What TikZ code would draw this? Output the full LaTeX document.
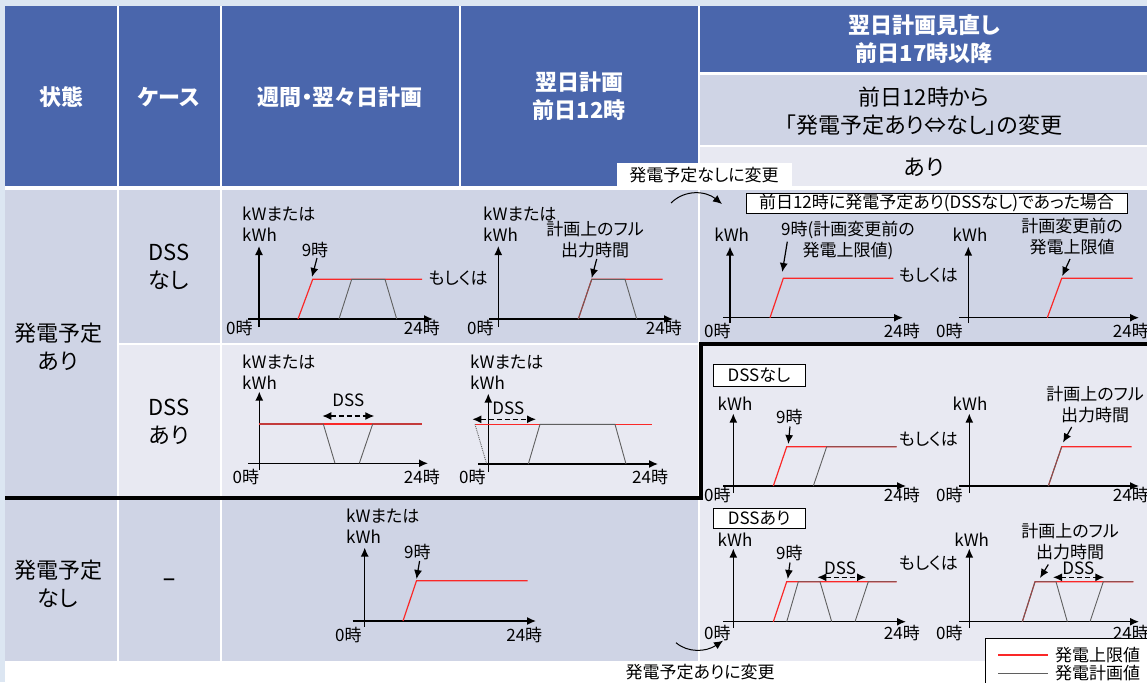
\documentclass[tikz,border=0pt]{standalone}
\usepackage{fontspec}
\setmainfont{Noto Sans CJK JP}[RawFeature=+palt]
\usetikzlibrary{arrows.meta}

\definecolor{hdblue}{RGB}{74,102,172}
\definecolor{rowdark}{RGB}{207,212,229}
\definecolor{rowlight}{RGB}{232,233,242}
\definecolor{bgblue}{RGB}{220,230,242}
\definecolor{upred}{RGB}{250,40,40}
\definecolor{plangray}{RGB}{95,95,95}

\begin{document}
\begin{tikzpicture}[x=1pt,y=-1pt,>={Latex[length=9pt,width=8pt]},
	hd/.style={text=white,font=\bfseries\fontsize{22}{28}\selectfont,align=center,inner sep=0pt},
	big/.style={font=\fontsize{22}{28}\selectfont,align=center,inner sep=0pt},
	lbl/.style={font=\fontsize{17}{21}\selectfont,align=center,inner sep=0pt},
	tag/.style={draw,fill=white,line width=1pt,font=\fontsize{17}{20}\selectfont,inner sep=0pt},
	axis/.style={->,line width=1.4pt},
	upper/.style={upred,line width=1.2pt},
	plan/.style={plangray,line width=0.9pt},
	pointer/.style={->,line width=1.2pt},
	dssarrow/.style={<->,dash pattern=on 5pt off 3pt,line width=1.3pt}]
	\useasboundingbox (0,0) rectangle (1147,682);
	\fill[bgblue] (0,0) rectangle (1147,682);
	\fill[white] (5,6) rectangle (1147,682);
	
	%header cells
	\fill[hdblue] (5,6) rectangle (116.5,186);
	\fill[hdblue] (118.5,6) rectangle (220,186);
	\fill[hdblue] (222,6) rectangle (459,186);
	\fill[hdblue] (461,6) rectangle (698,186);
	\fill[hdblue] (700,6) rectangle (1147,72.5);
	\fill[rowdark] (700,75) rectangle (1147,145);
	\fill[rowlight] (700,147) rectangle (1147,186);
	\node[hd] (hstate) at (61,97) {状態};
	\node[hd] (hcase) at (169,97) {ケース};
	\node[hd] (hweek) at (340,97) {週間・翌々日計画};
	\node[hd] (hday) at (579,96) {翌日計画\\前日12時};
	\node[hd] (hrev) at (924,39) {翌日計画見直し\\前日17時以降};
	\node[big] (hchg) at (924,111) {前日12時から\\「発電予定あり⇔なし」の変更};
	\node[big] (hyes) at (924,167) {あり};
	
	%body cells
	\fill[rowdark] (5,190) rectangle (116.5,496);
	\fill[rowdark] (118.5,190) rectangle (220,342.5);
	\fill[rowlight] (118.5,345) rectangle (220,496);
	\fill[rowdark] (222,190) rectangle (698,342.5);
	\fill[rowlight] (222,345) rectangle (698,496);
	\fill[rowdark] (700,190) rectangle (1147,342.5);
	\fill[rowlight] (700,345) rectangle (1147,661);
	\fill[rowdark] (5,500) rectangle (116.5,661);
	\fill[rowdark] (118.5,500) rectangle (220,661);
	\fill[rowdark] (222,500) rectangle (698,661);
	\node[big] (splan) at (58,347) {発電予定\\あり};
	\node[big] (sdss0) at (169,267) {DSS\\なし};
	\node[big] (sdss1) at (169,422) {DSS\\あり};
	\node[big] (snone) at (58,584) {発電予定\\なし};
	\node[big] (sdash) at (169,582) {\fontsize{15}{15}\selectfont\bfseries －};
	\draw[line width=4pt] (5,497.5) -- (701,497.5) -- (701,343.5) -- (1150,343.5);
	
	%change to no plan
	\fill[white] (617,163) rectangle (792,186);
	\node[lbl] (tonone) at (704,175) {発電予定なしに変更};
	\coordinate (c1) at (671,203);
	\coordinate (c2) at (722,204);
	\draw[->,line width=1pt] (c1) .. controls (685,189) and (706,191) .. (c2);
	\node[tag,minimum width=381pt,minimum height=20pt] (case1) at (936.5,203.3) {前日12時に発電予定あり(DSSなし)であった場合};
	
	%weekly plan, DSS none
	\draw[axis] (259,327) -- (259,246);
	\draw[axis] (248,319) -- (433,319);
	\node[lbl,align=left,anchor=west] (ay) at (242,224) {kWまたは\\kWh};
	\node[lbl,anchor=west] (a0) at (226,328) {0時};
	\node[lbl,anchor=east] (a24) at (440,328) {24時};
	\draw[upper] (298,319) -- (312.7,279.3) -- (422,279.3);
	\draw[plan] (339,319) -- (351.7,279.3) -- (385,279.3) -- (396.7,319);
	\node[lbl] (a9) at (315,250) {9時};
	\draw[pointer] (317,258) -- (312,277);
	\node[lbl] (aor) at (458,278) {もしくは};
	
	%day ahead 12h, DSS none
	\draw[axis] (498.3,327) -- (498.3,246);
	\draw[axis] (489,319) -- (673,319);
	\node[lbl,align=left,anchor=west] (by) at (483,224) {kWまたは\\kWh};
	\node[lbl,anchor=west] (b0) at (467,328) {0時};
	\node[lbl,anchor=east] (b24) at (682,328) {24時};
	\draw[upper] (578.3,319) -- (591.7,279.3) -- (662.7,279.3);
	\draw[plan] (578.3,319) -- (591.7,279.3) -- (625,279.3) -- (636.7,319);
	\node[lbl] (bfull) at (595,240) {計画上のフル\\出力時間};
	\draw[pointer] (596.7,259) -- (591.7,278);
	
	%revision, was DSS none
	\draw[axis] (730,323) -- (730,246.5);
	\draw[axis] (723,317.7) -- (903,317.7);
	\node[lbl] (cy) at (731.7,235) {kWh};
	\node[lbl] (c9) at (848,240.5) {9時(計画変更前の\\発電上限値)};
	\draw[pointer] (787.3,241.7) -- (782.3,272);
	\draw[upper] (770,317.7) -- (783.3,278.3) -- (893.3,278.3);
	\node[lbl] (cor) at (928.3,275.7) {もしくは};
	\node[lbl,anchor=west] (c0) at (704,330.7) {0時};
	\node[lbl,anchor=east] (c24) at (920,330.7) {24時};
	
	\draw[axis] (968.3,323) -- (968.3,246.5);
	\draw[axis] (959,317.7) -- (1139,317.7);
	\node[lbl] (dy) at (970,235) {kWh};
	\node[lbl] (dfull) at (1072,237) {計画変更前の\\発電上限値};
	\draw[pointer] (1070,259) -- (1062.2,276);
	\draw[upper] (1047.3,317.7) -- (1061.7,278.3) -- (1132.7,278.3);
	\node[lbl,anchor=west] (d0) at (936,330.7) {0時};
	\node[lbl,anchor=east] (d24) at (1149,330.7) {24時};
	
	%weekly plan, DSS
	\draw[axis] (259.3,470) -- (259.3,391.5);
	\draw[axis] (248.3,463.3) -- (428,463.3);
	\node[lbl,align=left,anchor=west] (ey) at (242,372.5) {kWまたは\\kWh};
	\node[lbl] (edss) at (348.3,400) {DSS};
	\draw[dssarrow] (322.3,416) -- (374.3,416);
	\draw[upper] (259.3,424) -- (421.7,424);
	\draw[plan] (259.3,424) -- (323.3,424) -- (335,463.3);
	\draw[plan] (359.3,463.3) -- (372.7,424) -- (421.7,424);
	\node[lbl,anchor=west] (e0) at (232.5,476.7) {0時};
	\node[lbl,anchor=east] (e24) at (440,476.7) {24時};
	
	%day ahead 12h, DSS
	\draw[axis] (488.3,471.7) -- (488.3,393.5);
	\draw[axis] (478.3,464) -- (658,464);
	\node[lbl,align=left,anchor=west] (fy) at (470,372.5) {kWまたは\\kWh};
	\node[lbl] (fdss) at (508.3,408.3) {DSS};
	\draw[dssarrow] (472.3,419.3) -- (536,419.3);
	\draw[upper] (475,424.3) -- (651.7,424.3);
	\draw[plan,densely dotted] (475,424.3) -- (486.7,464);
	\draw[plan] (528.3,464) -- (540,424.3) -- (615,424.3) -- (626,464);
	\node[lbl,anchor=west] (f0) at (459,476.7) {0時};
	\node[lbl,anchor=east] (f24) at (668.3,476.7) {24時};
	
	%revision, DSS none
	\node[tag,minimum width=92pt,minimum height=22pt] (tag0) at (759,375) {DSSなし};
	\node[lbl] (gy) at (735,404) {kWh};
	\draw[axis] (733.3,493) -- (733.3,413.5);
	\draw[axis] (723.3,486) -- (906,486);
	\node[lbl] (g9) at (789.3,417.3) {9時};
	\draw[pointer] (790,426.5) -- (788.3,444);
	\draw[upper] (773.3,486) -- (786.7,446.7) -- (896.7,446.7);
	\draw[plan] (813.3,486) -- (826.7,446.7) -- (896.7,446.7);
	\node[lbl] (gor) at (928.3,439) {もしくは};
	\node[lbl,anchor=west] (g0) at (704,495) {0時};
	\node[lbl,anchor=east] (g24) at (920,495) {24時};
	
	\node[lbl] (hy) at (970,404) {kWh};
	\draw[axis] (969.3,493) -- (969.3,413.5);
	\draw[axis] (959.3,486) -- (1139,486);
	\node[lbl] (hfull) at (1095,404.7) {計画上のフル\\出力時間};
	\draw[pointer] (1071.7,427) -- (1063,442.5);
	\draw[upper] (1048.3,486) -- (1061.7,446.7) -- (1131.7,446.7);
	\draw[plan] (1048.3,486) -- (1061.7,446.7);
	\node[lbl,anchor=west] (h0) at (936,495) {0時};
	\node[lbl,anchor=east] (h24) at (1149,495) {24時};
	
	%revision, DSS
	\node[tag,minimum width=92pt,minimum height=20pt] (tag1) at (759,518.3) {DSSあり};
	\node[lbl] (iy) at (735,540) {kWh};
	\draw[axis] (733.3,628) -- (733.3,548.5);
	\draw[axis] (723.3,621.7) -- (906,621.7);
	\node[lbl] (i9) at (789.3,553.3) {9時};
	\draw[pointer] (790,562.5) -- (787.7,579);
	\draw[upper] (773.3,621.7) -- (786.7,581.7) -- (896.7,581.7);
	\draw[plan] (786.7,621.7) -- (798.3,581.7) -- (820,581.7) -- (831.7,621.7);
	\draw[plan] (855,621.7) -- (868.3,581.7) -- (896.7,581.7);
	\node[lbl] (idss) at (840,568.3) {DSS};
	\draw[dssarrow] (817.3,577.3) -- (866,577.3);
	\node[lbl] (ior) at (928.3,563.3) {もしくは};
	\node[lbl,anchor=west] (i0) at (704,633.3) {0時};
	\node[lbl,anchor=east] (i24) at (920,633.3) {24時};
	
	\node[lbl] (jy) at (971.7,540) {kWh};
	\draw[axis] (969.3,628) -- (969.3,548.5);
	\draw[axis] (959.3,621.7) -- (1139,621.7);
	\node[lbl] (jfull) at (1070,542) {計画上のフル\\出力時間};
	\draw[pointer] (1048.3,564.5) -- (1040,578);
	\draw[upper] (1022.3,621.7) -- (1035,581.7) -- (1133.3,581.7);
	\draw[plan] (1022.3,621.7) -- (1035,581.7) -- (1056,581.7) -- (1067.3,621.7);
	\draw[plan] (1090,621.7) -- (1103.3,581.7) -- (1133.3,581.7);
	\node[lbl] (jdss) at (1078.3,568.3) {DSS};
	\draw[dssarrow] (1053,577.3) -- (1104.3,577.3);
	\node[lbl,anchor=west] (j0) at (936,633.3) {0時};
	\node[lbl,anchor=east] (j24) at (1149,633.3) {24時};
	
	%no plan
	\draw[axis] (364.7,626.7) -- (364.7,547.5);
	\draw[axis] (352.7,621) -- (536,621);
	\node[lbl,align=left,anchor=west] (ky) at (346,526.3) {kWまたは\\kWh};
	\node[lbl] (k9) at (417.4,551.7) {9時};
	\draw[pointer] (419.6,561) -- (416.5,579);
	\draw[upper] (403,621) -- (416.5,580.7) -- (527.7,580.7);
	\node[lbl,anchor=west] (k0) at (335,635) {0時};
	\node[lbl,anchor=east] (k24) at (542.4,635) {24時};
	
	%change to plan
	\coordinate (c3) at (676,642.7);
	\coordinate (c4) at (723,640.7);
	\draw[->,line width=1pt] (c3) .. controls (688,653) and (706,652) .. (c4);
	\node[lbl,anchor=west] (toplan) at (625.5,671.7) {発電予定ありに変更};
	
	%legend
	\draw[fill=white,line width=1pt] (985,638.3) rectangle (1155,690);
	\draw[upper] (998.3,655) -- (1048.3,655);
	\node[lbl,anchor=west] (lup) at (1055,655) {発電上限値};
	\draw[plan] (998.3,673.3) -- (1048.3,673.3);
	\node[lbl,anchor=west] (lplan) at (1055,673.3) {発電計画値};
\end{tikzpicture}
\end{document}
